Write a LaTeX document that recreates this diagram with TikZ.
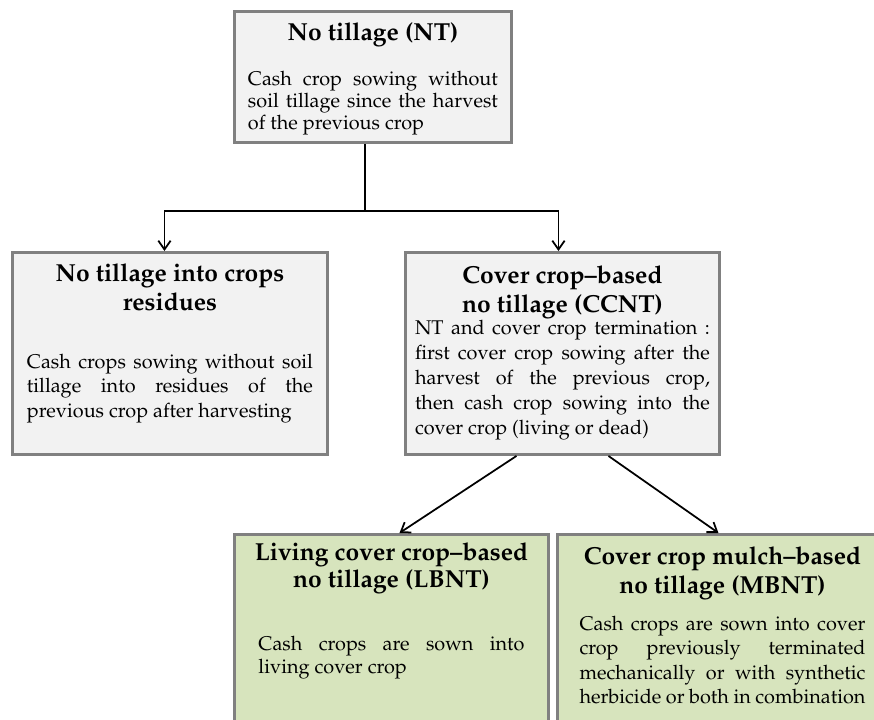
\documentclass[tikz,border=0pt]{standalone}
\usepackage[T1]{fontenc}
\usepackage{mathpazo}
\usetikzlibrary{arrows.meta}

\definecolor{boxgray}{RGB}{128,128,128}
\definecolor{boxfill}{RGB}{242,242,242}
\definecolor{boxgreen}{RGB}{215,228,189}

\hyphenpenalty=10000
\exhyphenpenalty=10000
\newcommand{\stagetitle}[1]{{\centering\bfseries\fontsize{14}{16.5}\selectfont #1\par}}

\begin{document}
\begin{tikzpicture}[
	x = 0.02cm, y = -0.02cm,
	stagebox/.style = {draw=boxgray, line width=1.7pt, anchor=north west},
	flow/.style = {line width=1pt, -{Straight Barb[length=5pt,width=7pt]}}
	]

	\useasboundingbox (0,0) rectangle (874,719);
	\clip (0,0) rectangle (874,719);

	% top level
	\node[stagebox, fill=boxfill, inner xsep=0.27cm, inner ysep=0.22cm] (nt) at (233,10)
		{\parbox[t][2.18cm][t]{5cm}{\stagetitle{No tillage (NT)}\vspace{13pt}%
		\fontsize{11.3}{12.6}\selectfont Cash crop sowing without\linebreak soil tillage since the harvest\linebreak of the previous crop}};

	% second level
	\node[stagebox, fill=boxfill, inner xsep=0.29cm, inner ysep=0.22cm] (ntr) at (11,251)
		{\parbox[t][3.6cm][t]{5.72cm}{\stagetitle{No tillage into crops\\ residues}\vspace{19pt}%
		\fontsize{11.3}{14}\selectfont Cash crops sowing without soil\linebreak tillage into residues of the\linebreak previous crop after harvesting}};
	\node[stagebox, fill=boxfill, inner xsep=0.19cm, inner ysep=0.26cm] (ccnt) at (404,251)
		{\parbox[t][3.52cm][t]{5.9cm}{\stagetitle{Cover crop--based\\ no tillage (CCNT)}\vspace{-1.5pt}%
		\fontsize{11.3}{14.2}\selectfont NT and cover crop termination~:\linebreak first cover crop sowing after the\linebreak harvest of the previous crop,\linebreak then cash crop sowing into the\linebreak cover crop (living or dead)}};

	% third level
	\node[stagebox, fill=boxgreen, inner xsep=0.48cm, inner ysep=0.17cm] (lbnt) at (233,533)
		{\parbox[t][4cm][t]{5.32cm}{\stagetitle{\makebox[\linewidth]{Living cover crop--based}\\[-1.5pt] no tillage (LBNT)}\vspace{23pt}%
		\fontsize{11.3}{13.2}\selectfont Cash crops are sown into\linebreak living cover crop}};
	\node[stagebox, fill=boxgreen, inner xsep=0.44cm, inner ysep=0.24cm] (mbnt) at (556,533)
		{\parbox[t][4cm][t]{5.72cm}{\stagetitle{Cover crop mulch--based\\ no tillage (MBNT)}\vspace{7pt}%
		\fontsize{11.3}{14}\selectfont Cash crops are sown into cover\linebreak crop previously terminated\linebreak mechanically or with synthetic\linebreak herbicide or both in combination}};

	% connectors
	\coordinate (split) at (365,211);
	\draw[line width=1pt] (split |- nt.south) -- (split);
	\draw[flow] (split) -| ([xshift=-0.11cm]ntr.north);
	\draw[flow] (split) -| ([xshift=-0.08cm]ccnt.north);
	\draw[flow] ([xshift=-0.92cm]ccnt.south) -- ([xshift=0.16cm]lbnt.north);
	\draw[flow] ([xshift=0.92cm]ccnt.south) -- ([xshift=-0.08cm]mbnt.north);

\end{tikzpicture}
\end{document}
